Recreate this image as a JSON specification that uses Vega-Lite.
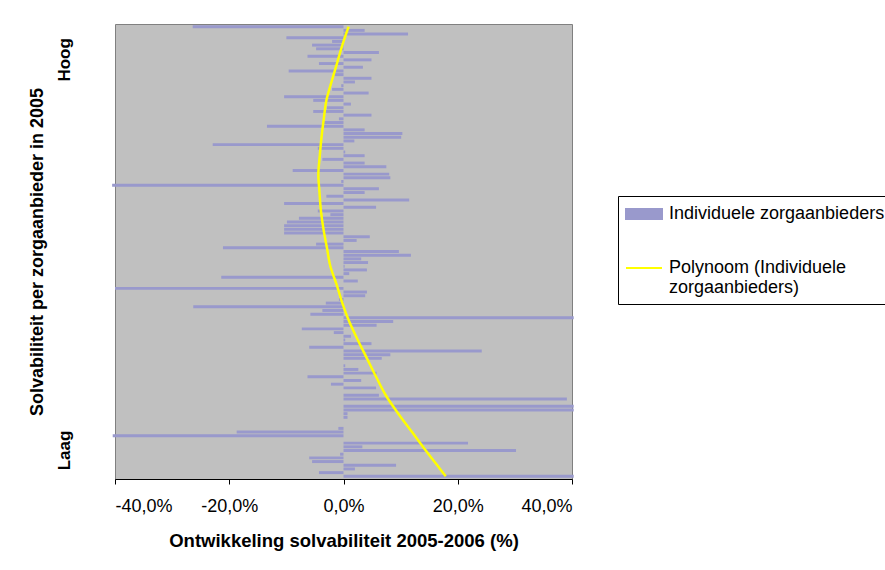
{
  "$schema": "https://vega.github.io/schema/vega-lite/v6.json",
  "autosize": {"type": "none"},
  "padding": {"left": 115, "top": 24, "right": 313, "bottom": 91},
  "width": 457,
  "height": 455,
  "background": "#FFFFFF",
  "config": {
    "font": "Liberation Sans",
    "view": {"fill": "#C0C0C0", "stroke": "#808080", "strokeWidth": 1},
    "axis": {"labelColor": "#000000", "titleColor": "#000000", "grid": false}
  },
  "data": {
    "values": [
      {"i": 0, "v": -26.4, "t": 0.9}, {"i": 1, "v": 3.7}, {"i": 2, "v": 11.3}, {"i": 3, "v": -10.0}, {"i": 4, "v": -2.0},
      {"i": 5, "v": -5.5, "t": -0.2}, {"i": 6, "v": -4.8}, {"i": 7, "v": 6.2}, {"i": 8, "v": -6.3}, {"i": 9, "v": 4.9},
      {"i": 10, "v": -4.3, "t": -1.15}, {"i": 11, "v": 3.4}, {"i": 12, "v": -9.6}, {"i": 13, "v": -1.6}, {"i": 14, "v": 4.9},
      {"i": 15, "v": 2.0, "t": -2.1}, {"i": 16, "v": -0.4}, {"i": 17, "v": -2.0}, {"i": 18, "v": 4.4}, {"i": 19, "v": -10.4},
      {"i": 20, "v": -5.3, "t": -3.0}, {"i": 21, "v": 1.3}, {"i": 22, "v": -2.9}, {"i": 23, "v": -5.3}, {"i": 24, "v": 4.9},
      {"i": 25, "v": -0.8, "t": -3.45}, {"i": 26, "v": -3.5}, {"i": 27, "v": -13.4}, {"i": 28, "v": 3.7}, {"i": 29, "v": 10.3},
      {"i": 30, "v": 10.1, "t": -3.85}, {"i": 31, "v": 1.9}, {"i": 32, "v": -22.9}, {"i": 33, "v": -4.5}, {"i": 34, "v": 0.3},
      {"i": 35, "v": 3.7, "t": -4.15}, {"i": 36, "v": -3.7}, {"i": 37, "v": 3.7}, {"i": 38, "v": 7.5}, {"i": 39, "v": -8.9},
      {"i": 40, "v": 8.0, "t": -4.4}, {"i": 41, "v": 8.2}, {"i": 42, "v": -0.4}, {"i": 43, "v": -40.5}, {"i": 44, "v": 6.2},
      {"i": 45, "v": 3.7, "t": -4.2}, {"i": 46, "v": -3.0}, {"i": 47, "v": 11.5}, {"i": 48, "v": -10.4}, {"i": 49, "v": 5.7},
      {"i": 50, "v": -4.5, "t": -3.95}, {"i": 51, "v": -2.3}, {"i": 52, "v": -7.8}, {"i": 53, "v": -9.9}, {"i": 54, "v": -10.4},
      {"i": 55, "v": -10.4, "t": -3.5}, {"i": 56, "v": -10.4}, {"i": 57, "v": 4.6}, {"i": 58, "v": 2.3}, {"i": 59, "v": -4.8},
      {"i": 60, "v": -21.1, "t": -2.9}, {"i": 61, "v": 9.7}, {"i": 62, "v": 11.8}, {"i": 63, "v": 3.1}, {"i": 64, "v": 4.3},
      {"i": 65, "v": 0.2, "t": -2.3}, {"i": 66, "v": 4.1}, {"i": 67, "v": 1.0}, {"i": 68, "v": -21.4}, {"i": 69, "v": 2.5},
      {"i": 70, "v": 0, "t": -1.2}, {"i": 71, "v": -40.0}, {"i": 72, "v": 4.1}, {"i": 73, "v": 3.8}, {"i": 74, "v": -0.8},
      {"i": 75, "v": -3.1, "t": -0.2}, {"i": 76, "v": -26.3}, {"i": 77, "v": -3.7}, {"i": 78, "v": -5.8}, {"i": 79, "v": 40.3},
      {"i": 80, "v": 8.7, "t": 1.0}, {"i": 81, "v": 5.8}, {"i": 82, "v": -7.3}, {"i": 83, "v": -1.7}, {"i": 84, "v": 1.3},
      {"i": 85, "v": 0.3, "t": 2.5}, {"i": 86, "v": 4.9}, {"i": 87, "v": -6.0}, {"i": 88, "v": 24.2}, {"i": 89, "v": 8.2},
      {"i": 90, "v": 6.7, "t": 4.1}, {"i": 91, "v": 0}, {"i": 92, "v": 0.3}, {"i": 93, "v": 2.6}, {"i": 94, "v": 5.8},
      {"i": 95, "v": -6.3, "t": 5.7}, {"i": 96, "v": 3.1}, {"i": 97, "v": -2.2}, {"i": 98, "v": 5.7}, {"i": 99, "v": 0},
      {"i": 100, "v": 6.2, "t": 7.4}, {"i": 101, "v": 39.1}, {"i": 102, "v": 0}, {"i": 103, "v": 40.3}, {"i": 104, "v": 40.3},
      {"i": 105, "v": 0.7, "t": 9.6}, {"i": 106, "v": 0.7}, {"i": 107, "v": 0}, {"i": 108, "v": 0}, {"i": 109, "v": -0.9},
      {"i": 110, "v": -18.7, "t": 12.0}, {"i": 111, "v": -40.4}, {"i": 112, "v": 0}, {"i": 113, "v": 21.8}, {"i": 114, "v": 3.3},
      {"i": 115, "v": 30.2, "t": 14.4}, {"i": 116, "v": -0.6}, {"i": 117, "v": -6.0}, {"i": 118, "v": -5.5}, {"i": 119, "v": 9.2},
      {"i": 120, "v": 2.0, "t": 16.9}, {"i": 121, "v": -4.3}, {"i": 122, "v": 40.3, "t": 17.9}
    ]
  },
  "encoding": {
    "y": {
      "field": "i",
      "type": "ordinal",
      "scale": {"paddingInner": 0.2, "paddingOuter": 0.33},
      "axis": {
        "title": "Solvabiliteit per zorgaanbieder in 2005",
        "titleFontSize": 18,
        "titleFontWeight": "bold",
        "titlePadding": 9,
        "labelExpr": "datum.value == 9 ? 'Hoog' : datum.value == 115 ? 'Laag' : ''",
        "labelAngle": 270,
        "labelAlign": "center",
        "labelBaseline": "bottom",
        "labelFontSize": 17,
        "labelFontWeight": "bold",
        "labelPadding": 42,
        "labelOverlap": false,
        "labelBound": false,
        "ticks": false,
        "domain": false
      }
    }
  },
  "layer": [
    {
      "mark": {"type": "bar", "color": "#9999CC"},
      "encoding": {
        "x": {
          "field": "v",
          "type": "quantitative",
          "scale": {"domain": [-40, 40], "nice": false, "zero": true},
          "axis": {
            "title": "Ontwikkeling solvabiliteit 2005-2006 (%)",
            "titleFontSize": 18.5,
            "titleFontWeight": "bold",
            "titlePadding": 16,
            "values": [-40, -20, 0, 20, 40],
            "labelExpr": "(datum.value < 0 ? '-' : '') + abs(datum.value) + ',0%'",
            "labelFontSize": 18,
            "labelPadding": 13,
            "tickSize": 5,
            "tickColor": "#000000",
            "domainColor": "#000000"
          }
        },
        "color": {
          "datum": "Individuele zorgaanbieders",
          "scale": {
            "domain": ["Individuele zorgaanbieders", "Polynoom (Individuele zorgaanbieders)"],
            "range": ["#9999CC", "#FFFF00"]
          },
          "legend": {
            "orient": "none",
            "legendX": 503,
            "legendY": 172,
            "title": null,
            "padding": 7,
            "strokeColor": "#000000",
            "fillColor": "#FFFFFF",
            "labelFontSize": 18,
            "labelColor": "#000000",
            "labelOffset": 22,
            "labelLimit": 400,
            "rowPadding": 34,
            "symbolSize": 400,
            "labelExpr": "datum.label == 'Polynoom (Individuele zorgaanbieders)' ? ['Polynoom (Individuele', 'zorgaanbieders)'] : datum.label",
            "encode": {
              "symbols": {
                "update": {
                  "shape": {"signal": "datum.value == 'Individuele zorgaanbieders' ? 'M-1,-0.5H2.6V0.5H-1Z' : 'M-1,0H2.6'"},
                  "fill": {"signal": "datum.value == 'Individuele zorgaanbieders' ? '#9999CC' : 'transparent'"},
                  "stroke": {"signal": "datum.value == 'Individuele zorgaanbieders' ? 'transparent' : '#FFFF00'"},
                  "strokeWidth": {"value": 2},
                  "opacity": {"value": 1}
                }
              }
            }
          }
        }
      }
    },
    {
      "transform": [{"filter": "isValid(datum.t)"}],
      "mark": {"type": "line", "strokeWidth": 2.5, "interpolate": "catmull-rom"},
      "encoding": {
        "x": {"field": "t", "type": "quantitative"},
        "order": {"field": "i", "type": "quantitative"},
        "color": {"datum": "Polynoom (Individuele zorgaanbieders)"}
      }
    }
  ]
}
